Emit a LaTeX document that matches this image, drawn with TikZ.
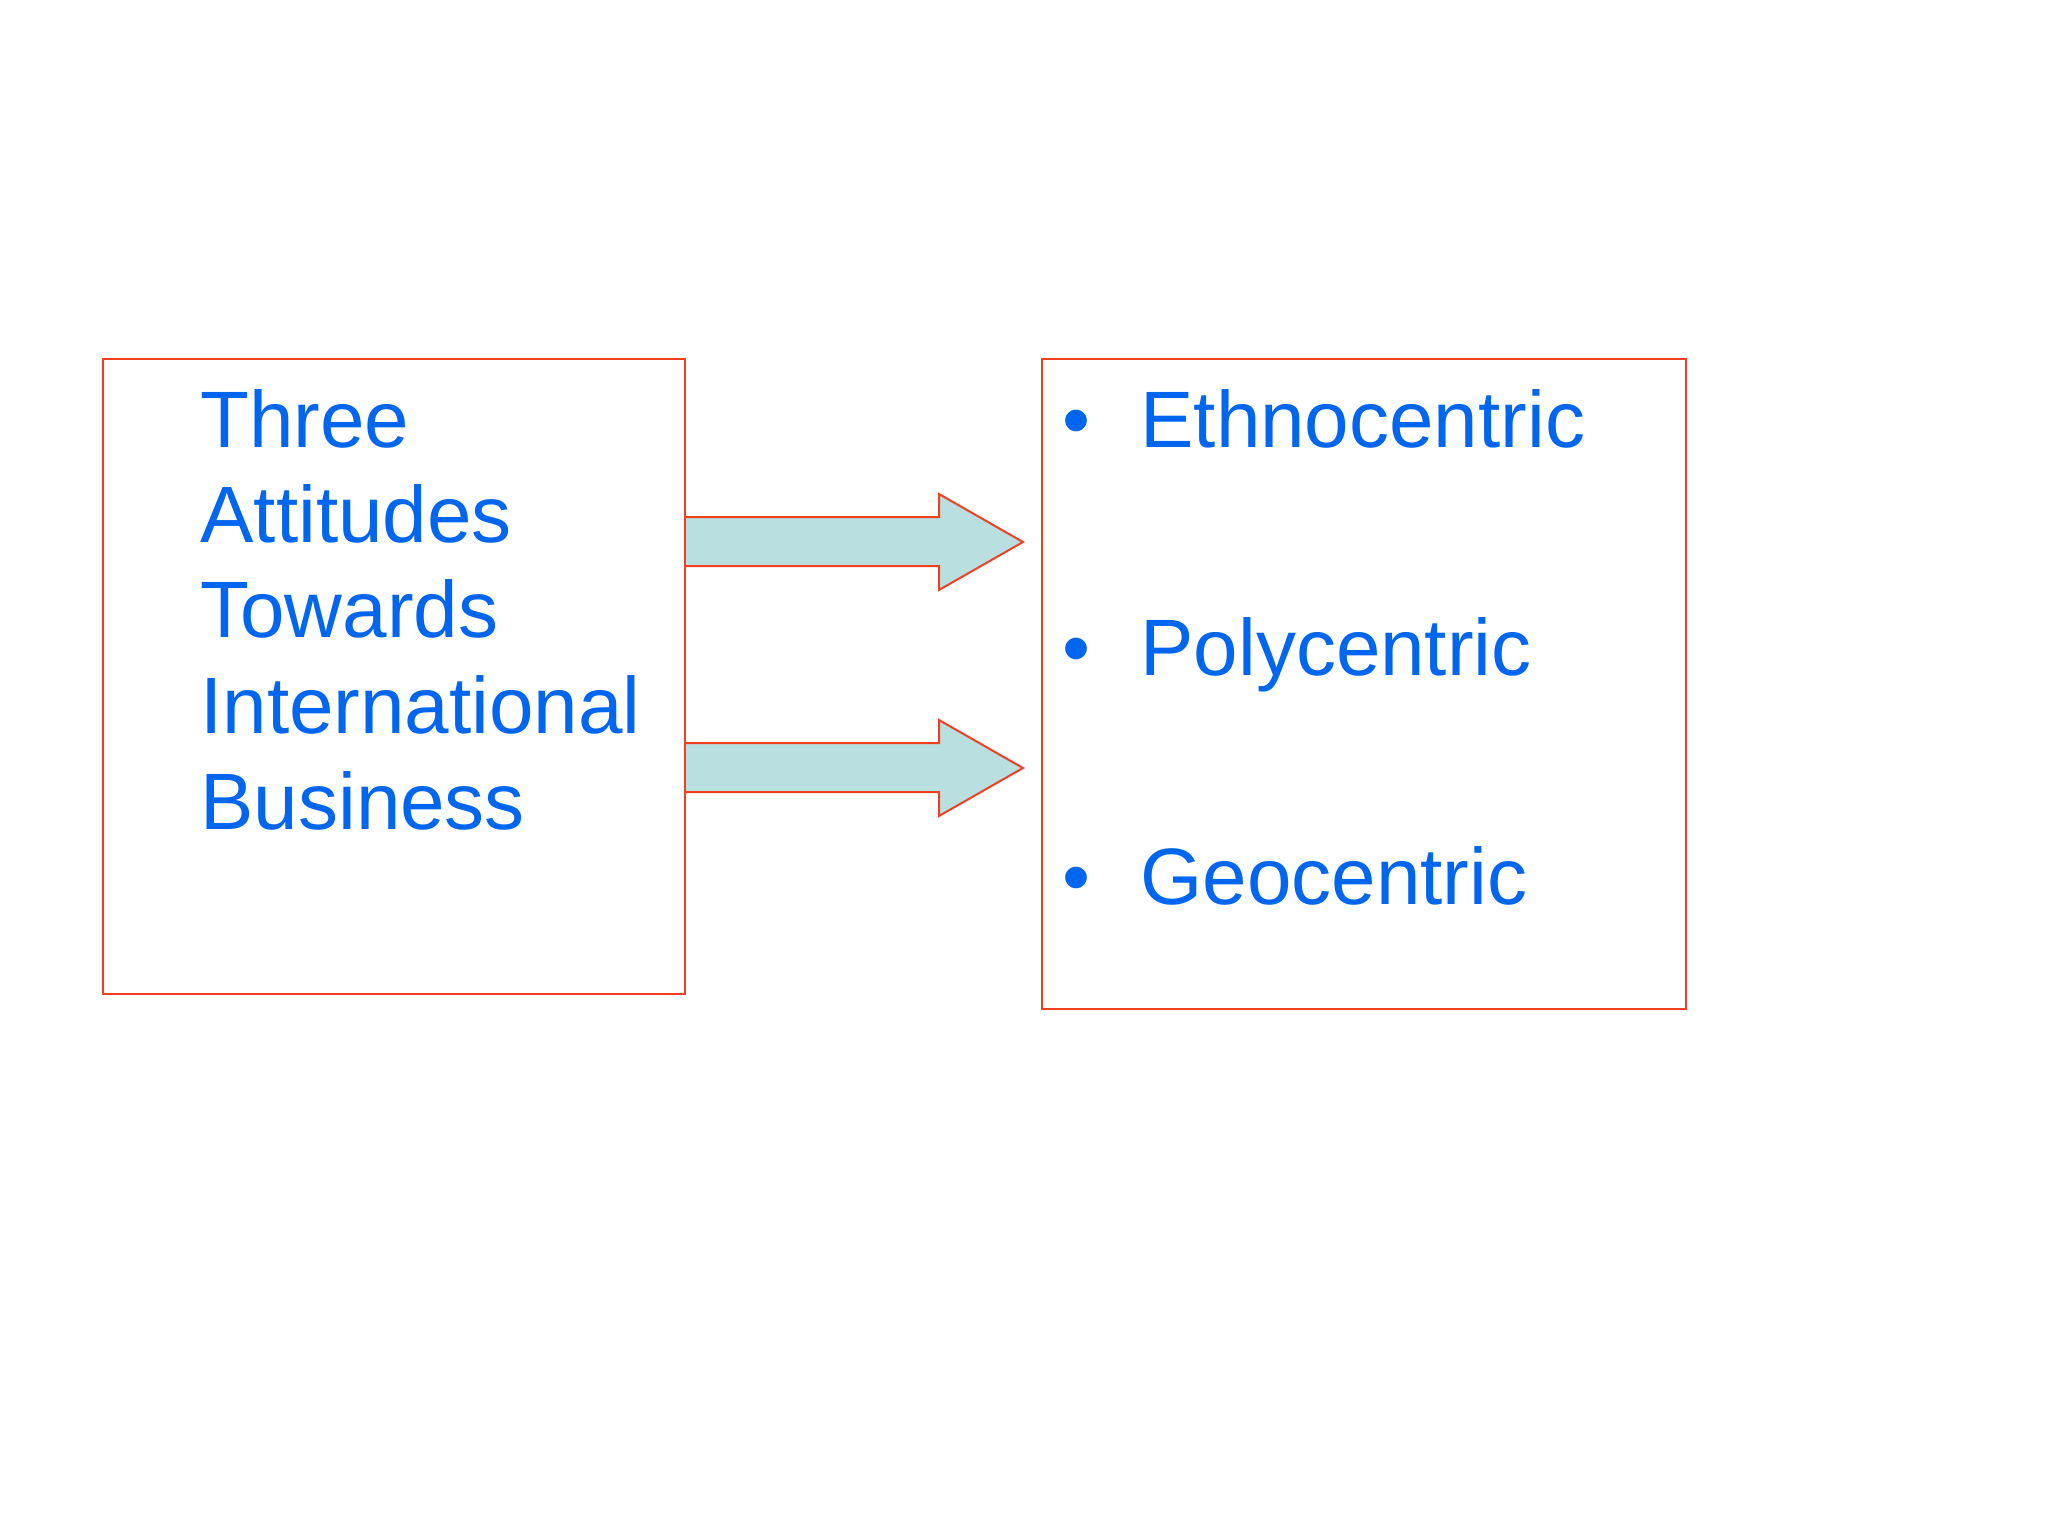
\documentclass[tikz,border=0pt]{standalone}
\usepackage{fontspec}
\setmainfont{Liberation Sans}
\definecolor{txtblue}{RGB}{0,102,240}
\definecolor{boxred}{RGB}{240,64,32}
\definecolor{arrowfill}{RGB}{185,223,225}
\begin{document}
\begin{tikzpicture}[x=0.5pt,y=-0.5pt,
  frame/.style={draw=boxred,line width=1pt,fill=white},
  label/.style={anchor=base west,inner sep=0,text=txtblue,font=\fontsize{40}{48}\selectfont},
  fatarrow/.style={draw=boxred,line width=1pt,fill=arrowfill,line join=miter}]
\useasboundingbox (0,0) rectangle (2048,1536);
% boxes
\node[frame,inner sep=0,minimum width=291pt,minimum height=317.5pt,anchor=north west] (left) at (102,358) {};
\node[frame,inner sep=0,minimum width=322pt,minimum height=325pt,anchor=north west] (right) at (1041,358) {};
% left text
\node[label] (l1) at (200,447) {Three};
\node[label] (l2) at (200,542) {Attitudes};
\node[label] (l3) at (200,637) {Towards};
\node[label] (l4) at (200,733) {International};
\node[label] (l5) at (200,829) {Business};
% right list
\node[label] (b1) at (1062,447) {•};
\node[label] (r1) at (1140,447) {Ethnocentric};
\node[label] (b2) at (1062,675) {•};
\node[label] (r2) at (1140,675) {Polycentric};
\node[label] (b3) at (1062,904) {•};
\node[label] (r3) at (1140,904) {Geocentric};
% arrows
\coordinate (tip1) at (1023,542);
\coordinate (tip2) at (1023,768);
\draw[fatarrow] (left.east |- 0,517) -- (939,517) -- (939,494) -- (tip1) -- (939,590) -- (939,566) -- (left.east |- 0,566);
\draw[fatarrow] (left.east |- 0,743) -- (939,743) -- (939,720) -- (tip2) -- (939,816) -- (939,792) -- (left.east |- 0,792);
\end{tikzpicture}
\end{document}
